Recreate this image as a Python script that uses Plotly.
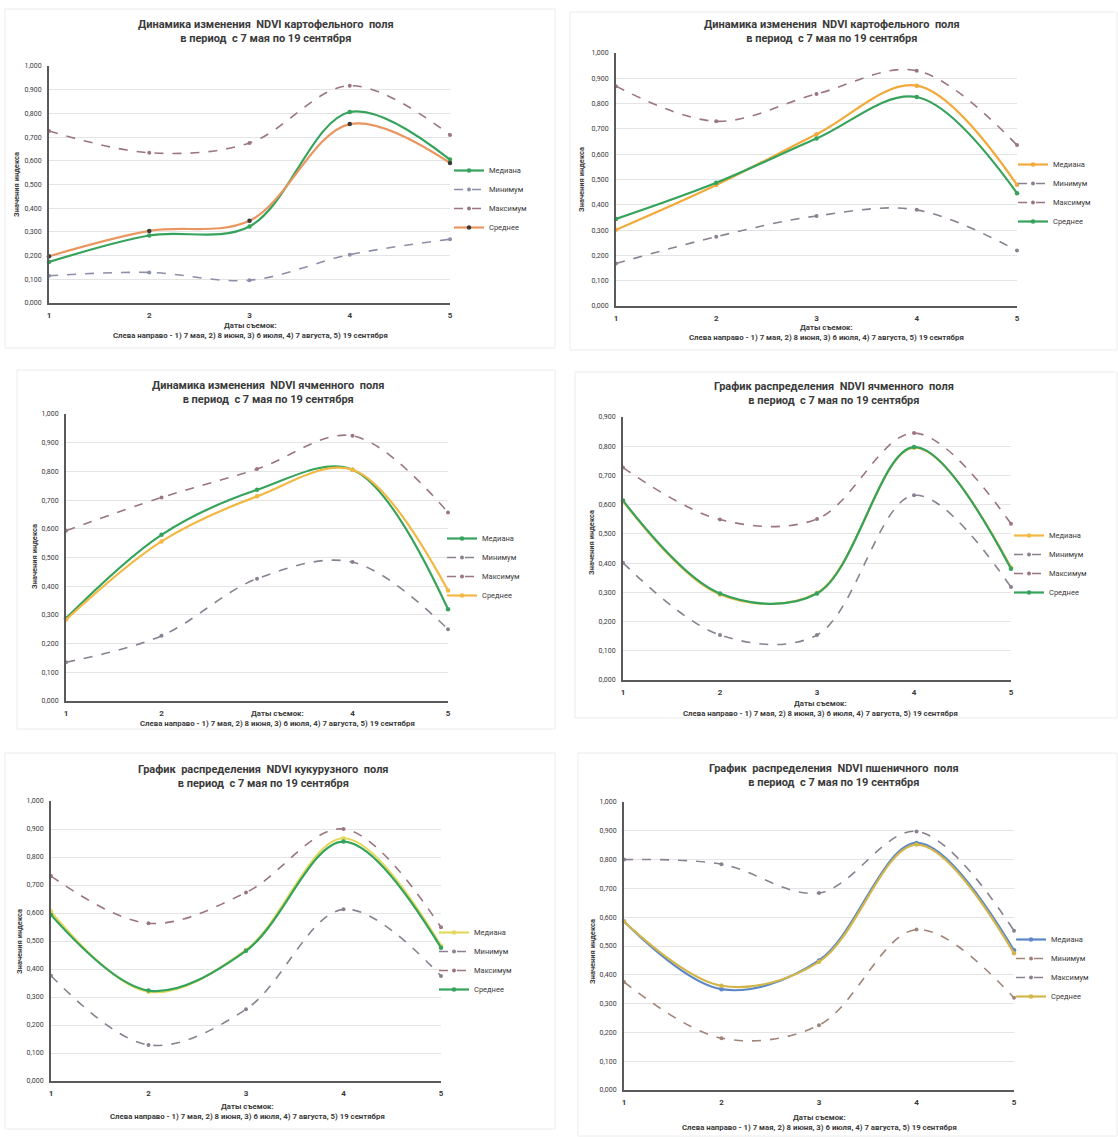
import plotly.graph_objects as go

W, H = 1118, 1137

# ---------------- data ----------------
x_dates = [1, 2, 3, 4, 5]
x_tick_text = ["1", "2", "3", "4", "5"]
x_tick_text_p3 = ["1", "2", "", "4", "5"]
y_ticks = [0.0, 0.1, 0.2, 0.3, 0.4, 0.5, 0.6, 0.7, 0.8, 0.9, 1.0]
y_tick_text = ["0,000", "0,100", "0,200", "0,300", "0,400", "0,500",
               "0,600", "0,700", "0,800", "0,900", "1,000"]

series_names = ["Медиана", "Минимум", "Максимум", "Среднее"]

# Panel 1 – potato field (dynamics)
p1_median = [0.173, 0.285, 0.323, 0.806, 0.605]
p1_min = [0.115, 0.129, 0.096, 0.204, 0.269]
p1_max = [0.726, 0.634, 0.675, 0.917, 0.709]
p1_mean = [0.197, 0.304, 0.347, 0.755, 0.591]

# Panel 2 – potato field (dynamics)
p2_median = [0.301, 0.478, 0.679, 0.871, 0.479]
p2_min = [0.168, 0.274, 0.356, 0.380, 0.219]
p2_max = [0.869, 0.730, 0.838, 0.930, 0.636]
p2_mean = [0.344, 0.487, 0.662, 0.826, 0.446]

# Panel 3 – barley field (dynamics)
p3_median = [0.288, 0.579, 0.736, 0.806, 0.320]
p3_min = [0.135, 0.227, 0.426, 0.484, 0.250]
p3_max = [0.593, 0.709, 0.808, 0.924, 0.657]
p3_mean = [0.283, 0.556, 0.713, 0.806, 0.385]

# Panel 4 – barley field (distribution)
p4_median = [0.612, 0.293, 0.298, 0.795, 0.385]
p4_min = [0.401, 0.154, 0.154, 0.632, 0.318]
p4_max = [0.727, 0.549, 0.551, 0.845, 0.535]
p4_mean = [0.614, 0.296, 0.296, 0.797, 0.381]

# Panel 5 – corn field (distribution)
p5_median = [0.605, 0.319, 0.468, 0.867, 0.483]
p5_min = [0.376, 0.129, 0.256, 0.613, 0.375]
p5_max = [0.732, 0.563, 0.673, 0.900, 0.549]
p5_mean = [0.593, 0.323, 0.465, 0.855, 0.476]

# Panel 6 – wheat field (distribution)
p6_median = [0.585, 0.350, 0.450, 0.858, 0.485]
p6_min = [0.375, 0.180, 0.225, 0.557, 0.320]
p6_max = [0.800, 0.784, 0.684, 0.898, 0.553]
p6_mean = [0.585, 0.362, 0.445, 0.852, 0.475]

title_potato = "Динамика изменения  NDVI картофельного  поля<br>в период  с 7 мая по 19 сентября"
title_barley_dyn = "Динамика изменения  NDVI ячменного  поля<br>в период  с 7 мая по 19 сентября"
title_barley_dist = "График распределения  NDVI ячменного  поля<br>в период  с 7 мая по 19 сентября"
title_corn = "График  распределения  NDVI кукурузного  поля<br>в период  с 7 мая по 19 сентября"
title_wheat = "График  распределения  NDVI пшеничного  поля<br>в период  с 7 мая по 19 сентября"
x_title = "Даты съемок:<br>Слева направо - 1) 7 мая, 2) 8 июня, 3) 6 июля, 4) 7 августа, 5) 19 сентября"
y_title = "Значения индекса"

# ---------------- styles ----------------
GREEN = "#35a35c"
ORANGE = "#f2a93b"
YELLOW_OR = "#f3b843"
LIGHT_YEL = "#e3d95a"
BLUE = "#5b87c8"
GOLD = "#d3b64a"
SALMON = "#ea9660"
DASH_MIN = "#8a8090"
DASH_MAX = "#9b7680"

FONT = "Liberation Sans Narrow, Roboto, Arial, sans-serif"
TXT = "#3a3a3a"

panels = [
    dict(data=(p1_median, p1_min, p1_max, p1_mean), title=title_potato,
         colors=(GREEN, "#8c8fa8", DASH_MAX, SALMON), mean_marker="#3a3a3a",
         xpx=(49, 450), ypx=(303, 66), ymax=1.0, tick_text=x_tick_text,
         title_c=(266, 31), xt_c=(250, 330), yt_c=(17, 185), leg=(449, 199)),
    dict(data=(p2_median, p2_min, p2_max, p2_mean), title=title_potato,
         colors=(ORANGE, DASH_MIN, DASH_MAX, GREEN), mean_marker=None,
         xpx=(616, 1017), ypx=(306, 53), ymax=1.0, tick_text=x_tick_text,
         title_c=(832, 32), xt_c=(826, 332), yt_c=(581, 180), leg=(1013, 193)),
    dict(data=(p3_median, p3_min, p3_max, p3_mean), title=title_barley_dyn,
         colors=(GREEN, DASH_MIN, DASH_MAX, YELLOW_OR), mean_marker=None,
         xpx=(66, 448), ypx=(701, 414), ymax=1.0, tick_text=x_tick_text_p3,
         title_c=(268, 392), xt_c=(277, 718), yt_c=(34, 557), leg=(442, 567)),
    dict(data=(p4_median, p4_min, p4_max, p4_mean), title=title_barley_dist,
         colors=(YELLOW_OR, DASH_MIN, DASH_MAX, GREEN), mean_marker=None,
         xpx=(623, 1011), ypx=(680, 417), ymax=0.9, tick_text=x_tick_text,
         title_c=(834, 393), xt_c=(820, 708), yt_c=(591, 543), leg=(1009, 564)),
    dict(data=(p5_median, p5_min, p5_max, p5_mean), title=title_corn,
         colors=(LIGHT_YEL, DASH_MIN, DASH_MAX, GREEN), mean_marker=None,
         xpx=(51, 441), ypx=(1081, 801), ymax=1.0, tick_text=x_tick_text,
         title_c=(263, 776), xt_c=(247, 1111), yt_c=(19, 942), leg=(434, 961)),
    dict(data=(p6_median, p6_min, p6_max, p6_mean), title=title_wheat,
         colors=(BLUE, "#a08478", DASH_MIN, GOLD), mean_marker=None,
         xpx=(624, 1014), ypx=(1090, 802), ymax=1.0, tick_text=x_tick_text,
         title_c=(834, 775), xt_c=(819, 1122), yt_c=(592, 952), leg=(1011, 968)),
]

cards = [(5, 9, 555, 348), (570, 12, 1117, 350), (17, 370, 555, 729),
         (575, 372, 1117, 718), (5, 753, 555, 1129), (578, 753, 1117, 1136)]


def px_x(v):
    return v / W


def px_y(v):
    return 1 - v / H


fig = go.Figure()
annotations = []
shapes = []
layout_extra = {}

for i, p in enumerate(panels, start=1):
    xid = "x" if i == 1 else f"x{i}"
    yid = "y" if i == 1 else f"y{i}"
    lid = "legend" if i == 1 else f"legend{i}"
    xa = "xaxis" if i == 1 else f"xaxis{i}"
    ya = "yaxis" if i == 1 else f"yaxis{i}"

    for k, (vals, name, col) in enumerate(zip(p["data"], series_names, p["colors"])):
        dashed = k in (1, 2)
        mcol = col
        if k == 3 and p["mean_marker"]:
            mcol = p["mean_marker"]
        fig.add_trace(go.Scatter(
            x=x_dates, y=vals, name=name, mode="lines+markers",
            xaxis=xid, yaxis=yid, legend=lid, cliponaxis=False,
            line=dict(color=col, width=1.6 if dashed else 2.2,
                      dash="dash" if dashed else "solid",
                      shape="spline", smoothing=1.0),
            marker=dict(color=mcol, size=4 if dashed else 4.5),
        ))

    yt = [t for t in y_ticks if t <= p["ymax"] + 1e-9]
    ytt = y_tick_text[:len(yt)]
    layout_extra[xa] = dict(
        domain=[px_x(p["xpx"][0]), px_x(p["xpx"][1])], anchor=yid,
        range=[1, 5], tickvals=x_dates, ticktext=p["tick_text"],
        showgrid=False, zeroline=False, showline=True, linecolor="#5a5a5a",
        linewidth=2, ticks="", ticklabelstandoff=3,
        tickfont=dict(family=FONT, size=8, color=TXT, weight="bold"),
    )
    layout_extra[ya] = dict(
        domain=[px_y(p["ypx"][0]), px_y(p["ypx"][1])], anchor=xid,
        range=[0, p["ymax"]], tickvals=yt, ticktext=ytt,
        showgrid=True, gridcolor="#e4e4e4", gridwidth=1, zeroline=False,
        showline=True, linecolor="#5a5a5a", linewidth=2, ticks="",
        ticklabelstandoff=4,
        tickfont=dict(family=FONT, size=7, color=TXT),
    )
    layout_extra[lid] = dict(
        x=px_x(p["leg"][0]), y=px_y(p["leg"][1]), xanchor="left",
        yanchor="middle", bgcolor="rgba(0,0,0,0)", borderwidth=0,
        font=dict(family=FONT, size=7.5, color=TXT), itemwidth=30,
        tracegroupgap=0,
    )

    annotations.append(dict(
        text=p["title"], x=px_x(p["title_c"][0]), y=px_y(p["title_c"][1]),
        xref="paper", yref="paper", xanchor="center", yanchor="middle",
        showarrow=False, align="center",
        font=dict(family=FONT, size=11, color=TXT, weight="bold"),
    ))
    annotations.append(dict(
        text=x_title, x=px_x(p["xt_c"][0]), y=px_y(p["xt_c"][1]),
        xref="paper", yref="paper", xanchor="center", yanchor="middle",
        showarrow=False, align="center",
        font=dict(family=FONT, size=7.8, color=TXT, weight="bold"),
    ))
    annotations.append(dict(
        text=y_title, x=px_x(p["yt_c"][0]), y=px_y(p["yt_c"][1]),
        xref="paper", yref="paper", xanchor="center", yanchor="middle",
        showarrow=False, textangle=-90,
        font=dict(family=FONT, size=7.5, color=TXT, weight="bold"),
    ))

for (x0, y0, x1, y1) in cards:
    shapes.append(dict(type="rect", xref="paper", yref="paper",
                       x0=px_x(x0), x1=px_x(x1), y0=px_y(y1), y1=px_y(y0),
                       line=dict(color="#ececec", width=1), layer="below"))

fig.update_layout(
    width=W, height=H,
    margin=dict(l=0, r=0, t=0, b=0, autoexpand=False),
    paper_bgcolor="white", plot_bgcolor="white",
    annotations=annotations, shapes=shapes,
    showlegend=True,
    **layout_extra,
)

fig.write_html(
    "out.html", include_plotlyjs=True, full_html=True,
    config={"displayModeBar": False},
    post_script="document.body.style.margin='0';document.body.style.padding='0';",
)
